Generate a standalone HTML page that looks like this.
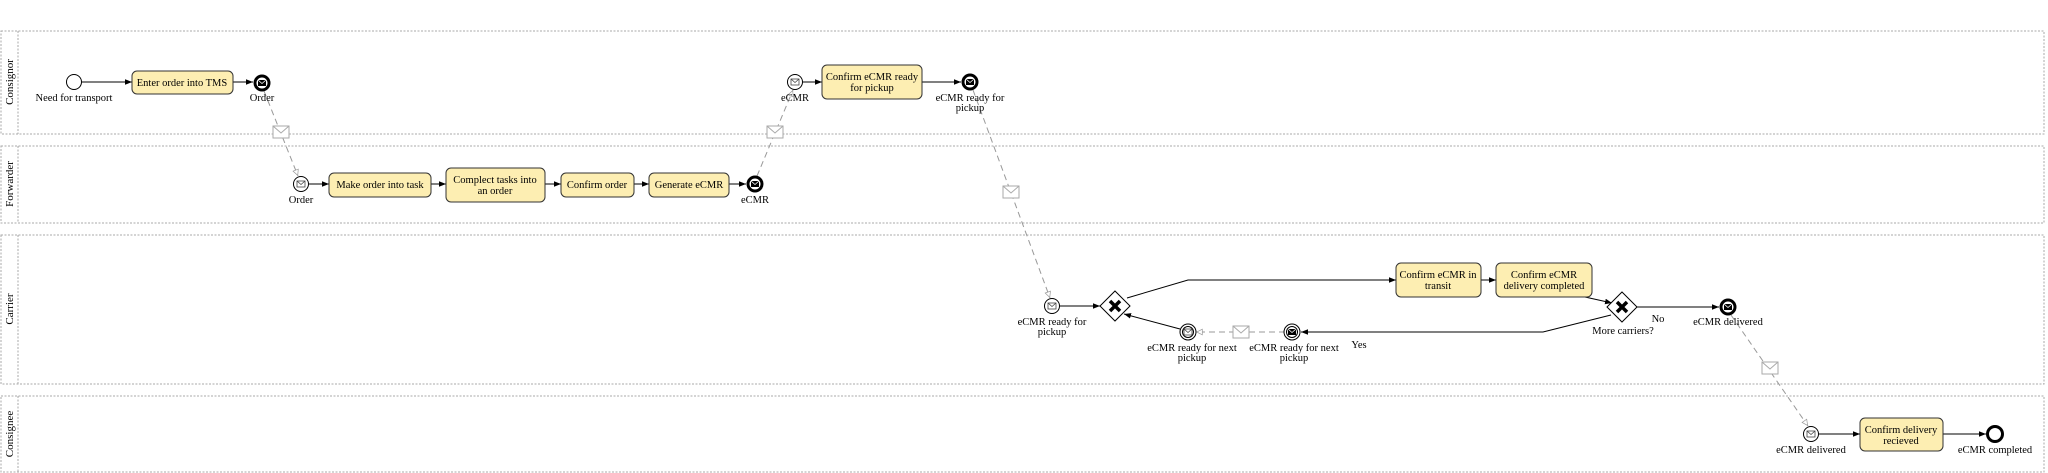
<!DOCTYPE html>
<html><head><meta charset="utf-8"><style>
html,body{margin:0;padding:0;background:#fff;}
svg{display:block;font-family:"Liberation Serif",serif;}
</style></head><body>
<svg width="2048" height="473" viewBox="0 0 2048 473" xmlns="http://www.w3.org/2000/svg">
<defs>
<marker id="a" viewBox="0 0 10 10" refX="10" refY="5" markerWidth="7" markerHeight="7" orient="auto"><path d="M0,1 L10,5 L0,9 z" fill="#000"/></marker>
<marker id="o" viewBox="0 0 10 10" refX="10" refY="5" markerWidth="7" markerHeight="7" orient="auto"><path d="M1,1 L9,5 L1,9 z" fill="#fff" stroke="#999"/></marker>
<g id="env"><rect x="-4" y="-3" width="8" height="6" fill="none" stroke="#444" stroke-width="0.8"/><path d="M-4,-3 L0,0.5 L4,-3" fill="none" stroke="#444" stroke-width="0.8"/></g>
<g id="envb"><rect x="-4" y="-3" width="8" height="6" fill="#000"/><path d="M-4,-3 L0,0.5 L4,-3" fill="none" stroke="#fff" stroke-width="0.8"/></g>
<g id="menv"><rect x="-8" y="-6" width="16" height="12" fill="#fff" stroke="#aaa"/><path d="M-8,-6 L0,1 L8,-6" fill="none" stroke="#aaa"/></g>
</defs>
<g fill="none" stroke="#aaa" stroke-width="1" stroke-dasharray="2,1.5">
<rect x="1" y="31" width="2043" height="103"/><line x1="18" y1="31" x2="18" y2="134"/>
<rect x="1" y="146" width="2043" height="77"/><line x1="18" y1="146" x2="18" y2="223"/>
<rect x="1" y="235" width="2043" height="149"/><line x1="18" y1="235" x2="18" y2="384"/>
<rect x="1" y="396" width="2043" height="76"/><line x1="18" y1="396" x2="18" y2="472"/>
</g>
<g font-size="11" text-anchor="middle" fill="#000">
<text transform="translate(13,82) rotate(-90)">Consignor</text>
<text transform="translate(13,184) rotate(-90)">Forwarder</text>
<text transform="translate(13,309) rotate(-90)">Carrier</text>
<text transform="translate(13,434) rotate(-90)">Consignee</text>
</g>
<!-- message flows -->
<g fill="none" stroke="#999" stroke-dasharray="6,4" stroke-width="1">
<path d="M264,91 L298,176" marker-end="url(#o)"/>
<path d="M757,176 L793,90" marker-end="url(#o)"/>
<path d="M973,90 L1050,298" marker-end="url(#o)"/>
<path d="M1285,332 L1196,332" marker-end="url(#o)"/>
<path d="M1731,315 L1808,426" marker-end="url(#o)"/>
</g>
<use href="#menv" x="281" y="132"/><use href="#menv" x="775" y="132"/><use href="#menv" x="1011" y="192"/><use href="#menv" x="1241" y="332"/><use href="#menv" x="1770" y="368"/>
<!-- sequence flows -->
<g fill="none" stroke="#000" stroke-width="1">
<path d="M82,82 L132,82" marker-end="url(#a)"/>
<path d="M233,82 L253,82" marker-end="url(#a)"/>
<path d="M309,184 L329,184" marker-end="url(#a)"/>
<path d="M431,184 L446,184" marker-end="url(#a)"/>
<path d="M545,184 L561,184" marker-end="url(#a)"/>
<path d="M634,184 L649,184" marker-end="url(#a)"/>
<path d="M729,184 L746,184" marker-end="url(#a)"/>
<path d="M803,82 L822,82" marker-end="url(#a)"/>
<path d="M922,82 L961,82" marker-end="url(#a)"/>
<path d="M1060,306 L1100,306" marker-end="url(#a)"/>
<path d="M1127,298 L1188,280 L1396,280" marker-end="url(#a)"/>
<path d="M1481,280 L1496,280" marker-end="url(#a)"/>
<path d="M1585,297 L1612,303" marker-end="url(#a)"/>
<path d="M1637,307 L1719,307" marker-end="url(#a)"/>
<path d="M1611,315 L1543,332 L1301,332" marker-end="url(#a)"/>
<path d="M1180,329 L1124,314" marker-end="url(#a)"/>
<path d="M1819,434 L1860,434" marker-end="url(#a)"/>
<path d="M1943,434 L1986,434" marker-end="url(#a)"/>
</g>
<!-- tasks -->
<g fill="#fdeeb2" stroke="#333" stroke-width="1">
<rect x="132" y="71" width="101" height="23" rx="5"/>
<rect x="329" y="173" width="102" height="24" rx="5"/>
<rect x="446" y="168" width="99" height="34" rx="5"/>
<rect x="561" y="173" width="73" height="24" rx="5"/>
<rect x="649" y="173" width="80" height="24" rx="5"/>
<rect x="822" y="65" width="100" height="34" rx="5"/>
<rect x="1396" y="263" width="85" height="34" rx="5"/>
<rect x="1496" y="263" width="96" height="34" rx="5"/>
<rect x="1860" y="418" width="83" height="33" rx="5"/>
</g>
<g font-size="10.5" text-anchor="middle" fill="#000">
<text x="182" y="86">Enter order into TMS</text>
<text x="380" y="188">Make order into task</text>
<text x="495" y="183">Complect tasks into</text><text x="495" y="194">an order</text>
<text x="597" y="188">Confirm order</text>
<text x="689" y="188">Generate eCMR</text>
<text x="872" y="80">Confirm eCMR ready</text><text x="872" y="91">for pickup</text>
<text x="1438" y="278">Confirm eCMR in</text><text x="1438" y="289">transit</text>
<text x="1544" y="278">Confirm eCMR</text><text x="1544" y="289">delivery completed</text>
<text x="1901" y="433">Confirm delivery</text><text x="1901" y="444">recieved</text>
</g>
<!-- events -->
<g fill="#fff" stroke="#000">
<circle cx="74" cy="82" r="7.5" stroke-width="1"/>
<circle cx="262" cy="83" r="7" stroke-width="3"/>
<circle cx="301" cy="184" r="7.5" stroke-width="1"/>
<circle cx="755" cy="184" r="7" stroke-width="3"/>
<circle cx="795" cy="82" r="7.5" stroke-width="1"/>
<circle cx="970" cy="82" r="7" stroke-width="3"/>
<circle cx="1052" cy="306" r="7.5" stroke-width="1"/>
<circle cx="1188" cy="332" r="8" stroke-width="1"/><circle cx="1188" cy="332" r="5.5" stroke-width="1"/>
<circle cx="1292" cy="332" r="8" stroke-width="1"/><circle cx="1292" cy="332" r="5.5" stroke-width="1"/>
<circle cx="1728" cy="307" r="7" stroke-width="3"/>
<circle cx="1811" cy="434" r="7.5" stroke-width="1"/>
<circle cx="1995" cy="434" r="7.5" stroke-width="3"/>
</g>
<use href="#envb" x="262" y="83"/><use href="#envb" x="755" y="184"/><use href="#envb" x="970" y="82"/><use href="#envb" x="1728" y="307"/>
<use href="#envb" x="1292" y="332"/>
<use href="#env" x="301" y="184"/><use href="#env" x="795" y="82"/><use href="#env" x="1052" y="306"/><use href="#env" x="1188" y="332"/><use href="#env" x="1811" y="434"/>
<!-- gateways -->
<g fill="#fff" stroke="#000" stroke-width="1">
<path d="M1115,291 L1130,306 L1115,321 L1100,306 z"/>
<path d="M1622,292 L1637,307 L1622,322 L1607,307 z"/>
</g>
<g stroke="#000" stroke-width="3.5">
<path d="M1110,301 L1120,311 M1120,301 L1110,311"/>
<path d="M1617,302 L1627,312 M1627,302 L1617,312"/>
</g>
<g font-size="10.5" text-anchor="middle" fill="#000">
<text x="74" y="101">Need for transport</text>
<text x="262" y="101">Order</text>
<text x="301" y="203">Order</text>
<text x="755" y="203">eCMR</text>
<text x="795" y="101">eCMR</text>
<text x="970" y="101">eCMR ready for</text><text x="970" y="111">pickup</text>
<text x="1052" y="325">eCMR ready for</text><text x="1052" y="335">pickup</text>
<text x="1192" y="351">eCMR ready for next</text><text x="1192" y="361">pickup</text>
<text x="1294" y="351">eCMR ready for next</text><text x="1294" y="361">pickup</text>
<text x="1359" y="348">Yes</text>
<text x="1658" y="322">No</text>
<text x="1623" y="334">More carriers?</text>
<text x="1728" y="325">eCMR delivered</text>
<text x="1811" y="453">eCMR delivered</text>
<text x="1995" y="453">eCMR completed</text>
</g>
</svg>
</body></html>
